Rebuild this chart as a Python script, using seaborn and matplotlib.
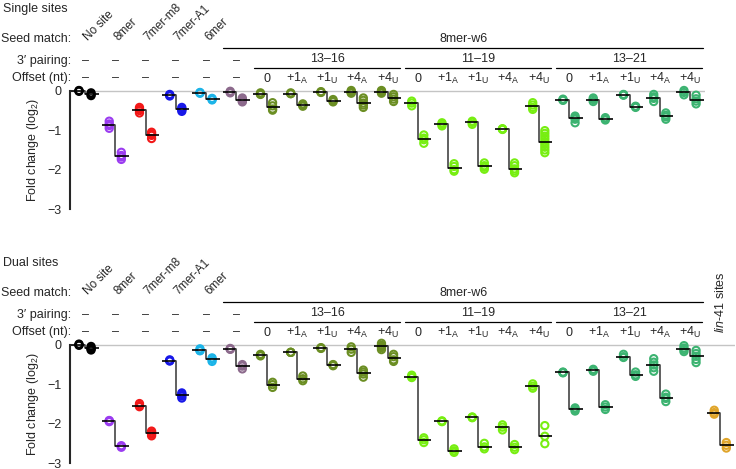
#!/usr/bin/env python

"""
Fold change of single and dual sites, left/right replicates with medians
"""

import numpy as np
import pandas as pd
import matplotlib
matplotlib.use("Agg")
import matplotlib.pyplot as plt
import seaborn as sns

# ---- data -----------------------------------------------------------------
seed_labels = ["No site", "8mer", "7mer-m8", "7mer-A1", "6mer"]
w6_groups = ["13\u201316", "11\u201319", "13\u201321"]
offset_labels = ["0", "+1$_\\mathrm{A}$", "+1$_\\mathrm{U}$",
                 "+4$_\\mathrm{A}$", "+4$_\\mathrm{U}$"]
extra_label = "$\\mathit{lin}$-$\\mathit{41}$ sites"

cat_colors = (["#000000", "#9b3cf0", "#f21818", "#1818e8", "#1cb4e8",
               "#8c6a8c"] + ["#6b8e23"] * 5 + ["#77ee11"] * 5 +
              ["#3cb371"] * 5 + ["#e0a52a"])

# single sites, left and right columns of each category
single_left = [
    [0.01, 0.0, -0.01], [-0.77, -0.84, -0.88, -0.95], [-0.42, -0.46, -0.50, -0.56],
    [-0.09, -0.11, -0.13], [-0.04, -0.05, -0.06], [-0.01, -0.03, -0.05],
    [-0.05, -0.08, -0.09], [-0.05, -0.07, -0.07], [-0.02, -0.03, -0.04],
    [0.01, -0.02, -0.04, -0.06], [0.01, -0.01, -0.03, -0.06],
    [-0.26, -0.31, -0.38], [-0.81, -0.85, -0.89], [-0.77, -0.80, -0.85],
    [-0.96, -0.97, -0.98], [-0.30, -0.36, -0.42, -0.47],
    [-0.21, -0.24, -0.23], [-0.18, -0.22, -0.27], [-0.09, -0.11, -0.10],
    [-0.09, -0.15, -0.19, -0.27], [0.01, -0.04, -0.10],
]
single_right = [
    [-0.05, -0.09, -0.12], [-1.56, -1.64, -1.68, -1.74], [-1.05, -1.09, -1.13, -1.21],
    [-0.42, -0.46, -0.48, -0.52], [-0.19, -0.21, -0.23], [-0.18, -0.22, -0.26, -0.28],
    [-0.30, -0.38, -0.46, -0.49], [-0.33, -0.36, -0.39], [-0.22, -0.25, -0.28],
    [-0.18, -0.24, -0.31, -0.36, -0.42], [-0.09, -0.15, -0.21, -0.27],
    [-1.12, -1.20, -1.24, -1.33], [-1.85, -1.92, -2.00, -2.04],
    [-1.83, -1.90, -1.94, -1.99], [-1.83, -1.90, -1.98, -2.03, -2.08],
    [-1.01, -1.08, -1.15, -1.22, -1.29, -1.36, -1.43, -1.50, -1.57],
    [-0.64, -0.68, -0.72, -0.81], [-0.68, -0.71, -0.74], [-0.39, -0.40, -0.42],
    [-0.56, -0.62, -0.66, -0.72], [-0.11, -0.20, -0.26, -0.33],
]

# dual sites (last category = lin-41 sites)
dual_left = [
    [0.02, 0.0, -0.01], [-1.92, -1.93, -1.95], [-1.49, -1.54, -1.57],
    [-0.38, -0.40, -0.41], [-0.10, -0.14, -0.15], [-0.09, -0.11, -0.11],
    [-0.24, -0.26, -0.28], [-0.19, -0.19, -0.19], [-0.07, -0.08, -0.09],
    [-0.05, -0.11, -0.19], [0.04, -0.01, -0.04, -0.07, -0.12],
    [-0.77, -0.81, -0.83], [-1.93, -1.94, -1.95], [-1.83, -1.84, -1.85],
    [-2.03, -2.09, -2.16], [-0.99, -1.05, -1.10],
    [-0.69, -0.70, -0.71], [-0.62, -0.65, -0.67], [-0.24, -0.30, -0.32],
    [-0.35, -0.44, -0.51, -0.58, -0.67], [-0.02, -0.08, -0.12, -0.17],
    [-1.66, -1.72, -1.76],
]
dual_right = [
    [-0.04, -0.08, -0.10, -0.13], [-2.56, -2.58, -2.60], [-2.19, -2.23, -2.27, -2.31],
    [-1.22, -1.26, -1.30, -1.35], [-0.33, -0.37, -0.42], [-0.50, -0.54, -0.61],
    [-0.95, -1.01, -1.08], [-0.79, -0.86, -0.91], [-0.50, -0.51, -0.53],
    [-0.64, -0.69, -0.74, -0.82], [-0.24, -0.30, -0.38, -0.42],
    [-2.36, -2.41, -2.48], [-2.64, -2.69, -2.73], [-2.50, -2.59, -2.64],
    [-2.53, -2.60, -2.66], [-2.05, -2.32, -2.51],
    [-1.60, -1.64, -1.68], [-1.52, -1.58, -1.64], [-0.69, -0.76, -0.80],
    [-1.25, -1.33, -1.36, -1.44], [-0.14, -0.22, -0.29, -0.37, -0.45],
    [-2.48, -2.55, -2.62],
]


def to_frame(left, right):
    rows = []
    for i, (lv, rv) in enumerate(zip(left, right)):
        for v in lv:
            rows.append(("c%02d" % i, i, "L", i - 0.2, v))
        for v in rv:
            rows.append(("c%02d" % i, i, "R", i + 0.2, v))
    return pd.DataFrame(rows, columns=["key", "cat", "side", "xpos", "value"])


def headers(ax, title, ncat):
    kw = dict(clip_on=False, fontsize=9, va="center")
    ax.text(-2.72, 2.08, title, ha="left", **kw)
    ax.text(-0.45, 1.32, "Seed match:", ha="right", **kw)
    ax.text(-0.45, 0.76, "3\u2032 pairing:", ha="right", **kw)
    ax.text(-0.45, 0.32, "Offset (nt):", ha="right", **kw)

    for i, lab in enumerate(seed_labels):
        ax.text(i + 0.17, 1.21, lab, rotation=45, rotation_mode="anchor",
                ha="left", va="bottom", fontsize=8.5, clip_on=False)
    for i in range(6):
        ax.text(i, 0.76, "\u2013", ha="center", **kw)
        ax.text(i, 0.32, "\u2013", ha="center", **kw)

    ax.text(12.5, 1.32, "8mer-w6", ha="center", **kw)
    ax.plot([4.56, 20.42], [1.09, 1.09], color="black", lw=0.9,
            clip_on=False)
    for g, lab in enumerate(w6_groups):
        i0 = 6 + 5 * g
        ax.text(i0 + 2, 0.82, lab, ha="center", **kw)
        ax.plot([i0 - 0.42, i0 + 4.4], [0.58, 0.58], color="black",
                lw=0.9, clip_on=False)
        for k, off in enumerate(offset_labels):
            ax.text(i0 + k, 0.31, off, ha="center", **kw)

    if ncat > 21:
        ax.text(21, 1.09, extra_label, rotation=90, ha="center",
                va="center", fontsize=9, clip_on=False)


def panel(ax, left, right, title):
    df = to_frame(left, right)
    ncat = len(left)
    palette = {"c%02d" % i: cat_colors[i] for i in range(ncat)}

    ax.axhline(0, color="#c4c4c4", lw=1.0, zorder=0)

    sns.scatterplot(data=df, x="xpos", y="value", hue="key", palette=palette,
                    s=27, linewidth=0, legend=False, ax=ax, zorder=2)
    coll = ax.collections[-1]
    fcs = coll.get_facecolors()
    coll.set_facecolor("none")
    coll.set_edgecolor(fcs)
    coll.set_linewidth(1.5)
    coll.set_clip_on(False)

    med = df.groupby(["cat", "side"])["value"].median().unstack()
    for i in range(ncat):
        ml, mr = med.loc[i, "L"], med.loc[i, "R"]
        ax.plot([i - 0.45, i], [ml, ml], color="black", lw=1.2, zorder=3,
                solid_capstyle="butt")
        ax.plot([i, i], [ml, mr], color="#444444", lw=1.2, zorder=3)
        ax.plot([i, i + 0.45], [mr, mr], color="black", lw=1.2, zorder=3,
                solid_capstyle="butt")

    ax.set_xlim(-0.5, ncat - 0.5)
    ax.set_ylim(-3.02, 0.2)
    ax.set_yticks([0, -1, -2, -3])
    ax.set_yticks([-0.5, -1.5, -2.5], minor=True)
    ax.set_xticks([])
    ax.set_xlabel("")
    ax.set_ylabel("Fold change (log$_2$)", fontsize=9)
    ax.yaxis.set_label_coords(-29.0 / (30.25 * ncat), 0.472)
    for s in ["top", "right", "bottom"]:
        ax.spines[s].set_visible(False)
    ax.spines["left"].set_bounds(-3, 0)
    ax.spines["left"].set_linewidth(1.5)
    ax.tick_params(axis="y", which="major", length=4, width=1.2,
                   labelsize=9, pad=2)
    ax.tick_params(axis="y", which="minor", length=2.5, width=1.2)
    ax.patch.set_visible(False)

    headers(ax, title, ncat)


def main():
    sns.set_style("white")
    plt.rcParams['font.family'] = "Liberation Sans"
    plt.rcParams['mathtext.fontset'] = "custom"
    plt.rcParams['mathtext.rm'] = "Liberation Sans"
    plt.rcParams['mathtext.it'] = "Liberation Sans:italic"
    plt.rcParams['axes.unicode_minus'] = True

    fig = plt.figure(figsize=(7.36, 4.69), dpi=100)

    ax1 = fig.add_axes([69.9 / 736, 1 - 209.8 / 469, 21 * 30.25 / 736,
                        126.8 / 469])
    panel(ax1, single_left, single_right, "Single sites")

    ax2 = fig.add_axes([69.9 / 736, 1 - 463.8 / 469, 22 * 30.25 / 736,
                        126.8 / 469])
    panel(ax2, dual_left, dual_right, "Dual sites")

    fig.savefig("out.png", dpi=100)


if __name__ == "__main__":
    main()
